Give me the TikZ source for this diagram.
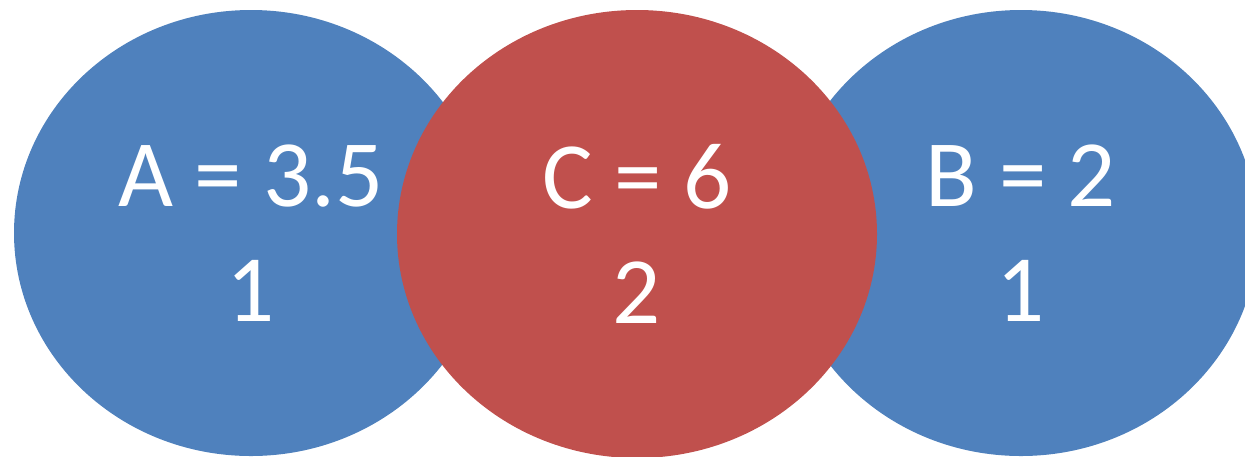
\documentclass[tikz,border=0pt]{standalone}
\usepackage{fontspec}
\setmainfont{Carlito}
\usepackage{tikz}
\usetikzlibrary{shapes.geometric}
\definecolor{setblue}{HTML}{4F81BD}
\definecolor{setred}{HTML}{C0504D}
\tikzset{
  setbubble/.style={ellipse, inner sep=0pt, align=center, text=white,
    font=\fontsize{47.5pt}{57.5pt}\selectfont},
  sideset/.style={setbubble, fill=setblue, minimum width=237pt, minimum height=223pt},
  midset/.style={setbubble, fill=setred, minimum width=240pt, minimum height=224pt}
}

\begin{document}
\begin{tikzpicture}[x=0.5pt, y=-0.5pt]
  \useasboundingbox (0,0) rectangle (1245,456);

  \node[sideset] (setA) at (251,233) {A = 3.5\\1};
  \node[sideset] (setB) at (1021,233) {B = 2\\1};
  \node[midset] (setC) at (637,234) {C = 6\\2};
\end{tikzpicture}
\end{document}
